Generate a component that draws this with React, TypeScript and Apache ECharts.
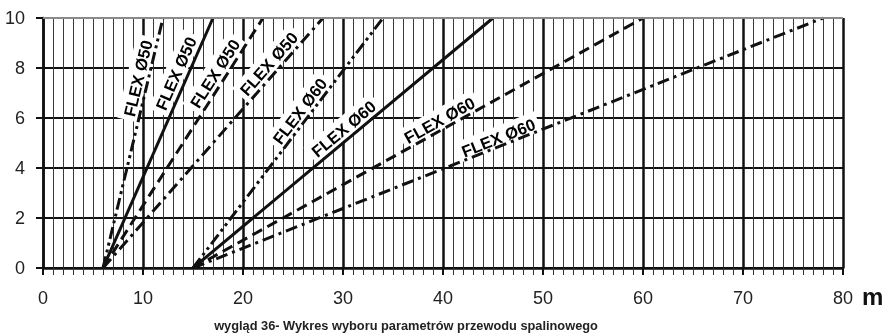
import React, { useEffect, useRef } from "react";
import * as echarts from "echarts";

// Axis ranges and ticks
const xTicks = [0, 10, 20, 30, 40, 50, 60, 70, 80];
const yTicks = [0, 2, 4, 6, 8, 10];

// FLEX Ø50 lines (start at 6 m)
const f50DashDotDot = [[6, 0], [12, 10]];
const f50Solid = [[6, 0], [17, 10]];
const f50Dashed = [[6, 0], [22, 10]];
const f50DashDot = [[6, 0], [28, 10]];

// FLEX Ø60 lines (start at 15 m)
const f60DashDotDot = [[15, 0], [34, 10]];
const f60Solid = [[15, 0], [45, 10]];
const f60Dashed = [[15, 0], [60, 10]];
const f60DashDot = [[15, 0], [78, 10]];

// label anchor points (data coordinates)
const f50LabelPos = [[9.4, 7.6], [13.2, 7.8], [17.1, 7.8], [22.5, 8.2]];
const f60LabelPos = [[25.6, 6.3], [30.0, 5.6], [39.6, 5.95], [45.5, 5.25]];
const f50LabelText = "FLEX Ø50";
const f60LabelText = "FLEX Ø60";

const caption = "wygląd 36- Wykres wyboru parametrów przewodu spalinowego";
const unitLabel = "m";

const FONT = "'Liberation Sans', Arial, sans-serif";
const INK = "#111111";

const DASH = [11, 6];
const DASH_DOT = [12, 5, 3, 5];
const DASH_DOT_DOT = [12, 4, 3, 4, 3, 4];

const LABEL_SIZE = 16.5;

function measure(text: string, size: number): number {
  const c = document.createElement("canvas");
  const ctx = c.getContext("2d");
  if (!ctx) return text.length * size * 0.6;
  ctx.font = `bold ${size}px ${FONT}`;
  return ctx.measureText(text).width;
}

export default function App() {
  const ref = useRef<HTMLDivElement>(null);

  useEffect(() => {
    if (!ref.current) return;
    const chart = echarts.init(ref.current, null, { renderer: "svg" });

    const lines = [
      { data: f50DashDotDot, type: DASH_DOT_DOT },
      { data: f50Solid, type: "solid" },
      { data: f50Dashed, type: DASH },
      { data: f50DashDot, type: DASH_DOT },
      { data: f60DashDotDot, type: DASH_DOT_DOT },
      { data: f60Solid, type: "solid" },
      { data: f60Dashed, type: DASH },
      { data: f60DashDot, type: DASH_DOT },
    ];
    const labelPos = [...f50LabelPos, ...f60LabelPos];
    const labelText = [
      f50LabelText, f50LabelText, f50LabelText, f50LabelText,
      f60LabelText, f60LabelText, f60LabelText, f60LabelText,
    ];
    const labelData = labelPos.map((p, i) => [p[0], p[1], i]);

    chart.setOption({
      animation: false,
      grid: { left: 43, right: 45, top: 18, bottom: 65, containLabel: false },
      xAxis: {
        type: "value",
        min: xTicks[0],
        max: xTicks[xTicks.length - 1],
        interval: 10,
        axisLine: { show: true, lineStyle: { color: INK, width: 2.5 } },
        axisTick: { show: true, length: 7, lineStyle: { color: INK, width: 2 } },
        minorTick: { show: true, splitNumber: 10, length: 7, lineStyle: { color: "#333", width: 1 } },
        splitLine: { show: true, lineStyle: { color: INK, width: 2.5 } },
        minorSplitLine: { show: true, lineStyle: { color: "#3a3a3a", width: 1 } },
        axisLabel: { fontFamily: FONT, fontSize: 18, color: "#222", margin: 21 },
      },
      yAxis: {
        type: "value",
        min: yTicks[0],
        max: yTicks[yTicks.length - 1],
        interval: 2,
        axisLine: { show: true, lineStyle: { color: INK, width: 2.5 } },
        axisTick: { show: true, length: 7, lineStyle: { color: INK, width: 2 } },
        splitLine: { show: true, lineStyle: { color: INK, width: 2 } },
        axisLabel: { fontFamily: FONT, fontSize: 18, color: "#222", margin: 18 },
      },
      graphic: [
        {
          type: "text",
          x: 862,
          y: 296,
          style: {
            text: unitLabel,
            fontFamily: FONT,
            fontWeight: "bold",
            fontSize: 24,
            fill: INK,
            verticalAlign: "middle",
            textAlign: "left",
          },
        },
        {
          type: "text",
          x: 406,
          y: 325,
          style: {
            text: caption,
            fontFamily: FONT,
            fontWeight: "bold",
            fontSize: 12.8,
            fill: "#222",
            verticalAlign: "middle",
            textAlign: "center",
          },
        },
      ],
      series: [
        ...lines.map((l, idx) => ({
          type: "line",
          data: l.data,
          symbol: "none",
          z: 3,
          lineStyle: { color: INK, width: 3, type: l.type as any, cap: "butt" },
          ...(idx === 0
            ? {
                markLine: {
                  silent: true,
                  symbol: "none",
                  label: { show: false },
                  lineStyle: { color: "#8a8a8a", width: 2, type: "solid" },
                  data: [{ yAxis: yTicks[yTicks.length - 1] }],
                },
              }
            : {}),
        })),
        {
          type: "custom",
          z: 2,
          data: labelData,
          renderItem: (params: any, api: any) => {
            const i = api.value(2);
            const seg = lines[i].data;
            const p0 = api.coord(seg[0]);
            const p1 = api.coord(seg[1]);
            const ang = Math.atan2(p0[1] - p1[1], p1[0] - p0[0]);
            const c = api.coord([api.value(0), api.value(1)]);
            const txt = labelText[i];
            const w = measure(txt, LABEL_SIZE) + 8;
            const h = LABEL_SIZE + 4;
            return {
              type: "group",
              x: c[0],
              y: c[1],
              rotation: ang,
              children: [
                {
                  type: "rect",
                  shape: { x: -w / 2, y: -h / 2, width: w, height: h },
                  style: { fill: "#ffffff" },
                },
                {
                  type: "text",
                  x: 0,
                  y: 1,
                  style: {
                    text: txt,
                    fontFamily: FONT,
                    fontWeight: "bold",
                    fontSize: LABEL_SIZE,
                    fill: "#000000",
                    align: "center",
                    verticalAlign: "middle",
                  },
                },
              ],
            };
          },
        },
      ],
    });

    return () => chart.dispose();
  }, []);

  return (
    <div
      ref={ref}
      style={{ position: "fixed", left: 0, top: 0, width: 888, height: 333 }}
    />
  );
}
